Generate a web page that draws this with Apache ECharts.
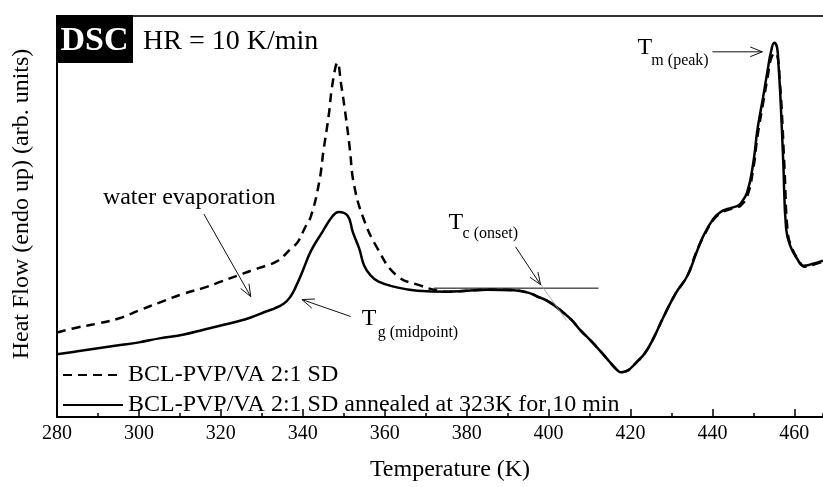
<!DOCTYPE html>
<html>
<head>
<meta charset="utf-8">
<script src="https://cdn.jsdelivr.net/npm/echarts@6/dist/echarts.min.js"></script>
<style>
  html, body { margin: 0; padding: 0; background: #fff; }
  #chart { width: 823px; height: 487px; }
</style>
</head>
<body>
<div id="chart"></div>
<script>
  // temperatures (K) and heat flow (arb. units)
  const solidTemps = [280, 285, 290, 295, 300, 305, 311, 316, 320, 324, 327.3, 331, 333, 335.4, 337, 338.2, 340, 342, 344.8, 347.3, 348.8,
    351, 352.2, 353.8, 355, 356.6, 358.5, 362.2, 368, 375.4, 380, 385, 391.5, 395, 397.3, 400, 403, 405.5, 407.8, 410, 412.7,
    415, 416.8, 417.6, 419, 421.7, 423.5, 425.6, 428, 431, 433.9, 436, 437.8, 440.2, 442, 443.7, 446, 446.8, 448.5, 450, 451,
    452.4, 453.5, 454.3, 455.1, 455.8, 456.1, 456.6, 457.3, 458, 459, 460.7, 462.2, 464.6, 467];
  const solidFlow = [63, 66, 69, 72, 75, 79, 83, 88, 92, 96, 100, 106, 109, 114, 121, 130, 147, 167, 186, 202, 206,
    202, 186, 169, 152, 142, 136, 131, 127, 126, 127, 128, 127.5, 125, 121, 116, 107, 98, 87, 78, 66,
    55, 47, 45, 46, 56, 64, 79, 100, 124, 142, 164, 182, 199, 206, 209, 212, 214, 226, 256, 289,
    322, 349, 367, 376, 371, 356, 322, 256, 189, 172, 159, 152, 154, 157];

  const dashedTemps = [280, 285, 290, 295, 300, 305, 311, 316, 320, 324, 328, 331, 333.9, 337.1, 338.8, 340.5, 342, 344, 345.1, 346.3,
    347.3, 348.5, 349.3, 350.5, 351.5, 352.4, 354.6, 358.3, 363, 368.8, 373, 376, 380, 385, 391.5, 395, 397.3, 400, 403, 405.5,
    407.8, 410, 412.7, 415, 416.8, 417.6, 419, 421.7, 423.5, 425.6, 428, 431, 433.9, 436, 437.8, 440.2, 442, 443.7, 446, 446.8,
    448.5, 450, 451, 452.4, 453.5, 454.3, 455.3, 456, 456.4, 456.9, 457.6, 458.4, 459.4, 461, 462.5, 464.6, 467];
  const dashedFlow = [85, 90, 94, 99, 107, 115, 124, 130, 136, 142, 148, 152, 157, 169, 176, 190, 202, 236, 269, 302,
    336, 356, 336, 302, 269, 236, 202, 169, 142, 132, 127, 126, 127, 128, 127.5, 125, 121, 116, 107, 98,
    87, 78, 66, 55, 47, 45, 46, 56, 64, 79, 100, 124, 142, 165, 181, 198, 205, 208, 211, 212,
    222, 250, 282, 316, 342, 360, 366, 360, 340, 310, 250, 185, 170, 158, 151, 153, 156];

  const seriesNames = ['BCL-PVP/VA 2:1 SD', 'BCL-PVP/VA 2:1 SD annealed at 323K for 10 min'];
  const majorTicks = 20;
  const minorTicks = 10;

  const serif = 'Liberation Serif, Times New Roman, serif';

  const zip = (xs, ys) => xs.map((x, i) => [x, ys[i]]);

  let chart = echarts.init(document.getElementById('chart'), null, { renderer: 'canvas' });

  let option = {
    animation: false,
    backgroundColor: '#fff',
    grid: { left: 57, right: 0, top: 16, bottom: 68 },
    legend: {
      orient: 'vertical',
      left: 57,
      top: 358,
      itemWidth: 60,
      itemHeight: 14,
      itemGap: 6,
      itemStyle: { opacity: 0 },
      textStyle: { fontFamily: serif, fontSize: 24, lineHeight: 24, color: '#000' },
      data: seriesNames
    },
    xAxis: [
      {
        type: 'value', min: 280, max: 467, interval: majorTicks, position: 'bottom',
        name: 'Temperature (K)', nameLocation: 'middle', nameGap: 41,
        nameTextStyle: { fontFamily: serif, fontSize: 24, color: '#000', padding: [0, 0, 0, 20] },
        axisLine: { show: true, onZero: false, lineStyle: { color: '#000', width: 2 } },
        axisTick: { show: true, inside: true, length: 8, lineStyle: { color: '#000', width: 1.5 } },
        axisLabel: { fontFamily: serif, fontSize: 20, color: '#000', margin: 7, showMaxLabel: false },
        splitLine: { show: false }
      },
      {
        type: 'value', min: 280, max: 467, interval: minorTicks, position: 'bottom',
        axisLine: { show: false },
        axisTick: { show: true, inside: true, length: 4, lineStyle: { color: '#000', width: 1.5 } },
        axisLabel: { show: false },
        splitLine: { show: false }
      },
      {
        type: 'value', min: 280, max: 467, position: 'top',
        axisLine: { show: true, onZero: false, lineStyle: { color: '#333', width: 2 } },
        axisTick: { show: false }, axisLabel: { show: false }, splitLine: { show: false }
      }
    ],
    yAxis: {
      type: 'value', min: 0, max: 403,
      axisLine: { show: true, onZero: false, lineStyle: { color: '#000', width: 2 } },
      axisTick: { show: false }, axisLabel: { show: false }, splitLine: { show: false }
    },
    series: [
      {
        name: seriesNames[0], type: 'line', xAxisIndex: 0, symbol: 'none', smooth: 0.45,
        lineStyle: { color: '#000', width: 2.5, type: [9, 6] },
        itemStyle: { color: '#000' },
        data: zip(dashedTemps, dashedFlow), z: 3
      },
      {
        name: seriesNames[1], type: 'line', xAxisIndex: 0, symbol: 'none', smooth: 0.45,
        lineStyle: { color: '#000', width: 2.5 },
        itemStyle: { color: '#000' },
        data: zip(solidTemps, solidFlow), z: 4
      }
    ]
  };
  chart.setOption(option);

  // annotations, placed in data coordinates
  const toPx = p => chart.convertToPixel({ xAxisIndex: 0, yAxisIndex: 0 }, p);

  function arrow(from, to, head) {
    let a = toPx(from), b = toPx(to);
    let ang = Math.atan2(b[1] - a[1], b[0] - a[0]);
    let L = 13, t = 0.38;
    let h1 = [b[0] - L * Math.cos(ang - t), b[1] - L * Math.sin(ang - t)];
    let h2 = [b[0] - L * Math.cos(ang + t), b[1] - L * Math.sin(ang + t)];
    let els = [{ type: 'line', shape: { x1: a[0], y1: a[1], x2: b[0], y2: b[1] }, style: { stroke: '#111', lineWidth: 1 }, z: 10 }];
    if (head !== false) {
      els.push({ type: 'polyline', shape: { points: [h1, b, h2] }, style: { stroke: '#111', lineWidth: 1, fill: null }, z: 10 });
    }
    return els;
  }

  function label(text, at, size) {
    let p = toPx(at);
    return { type: 'text', x: p[0], y: p[1], z: 10,
      style: { text: text, fontFamily: serif, fontSize: size, fill: '#000', align: 'left', verticalAlign: 'middle' } };
  }

  let g = [];
  g = g.concat(arrow([315.85, 204], [327.3, 121]));
  g = g.concat(arrow([351.7, 101], [339.8, 118]));
  g = g.concat(arrow([391.95, 171], [398.05, 133]));
  g = g.concat(arrow([440, 367], [452.2, 367]));
  // onset construction lines
  let hl0 = toPx([372, 129.5]), hl1 = toPx([412.2, 129.5]);
  g.push({ type: 'line', shape: { x1: hl0[0], y1: hl0[1], x2: hl1[0], y2: hl1[1] }, style: { stroke: '#000', lineWidth: 1 }, z: 9 });
  let tl0 = toPx([397.07, 139]), tl1 = toPx([404.4, 97]);
  g.push({ type: 'line', shape: { x1: tl0[0], y1: tl0[1], x2: tl1[0], y2: tl1[1] }, style: { stroke: '#999', lineWidth: 0.8 }, z: 9 });

  g.push(label('water evaporation', [291.2, 220], 24));
  g.push(label('T', [354.4, 99], 24));
  g.push(label('g (midpoint)', [358.3, 85], 16));
  g.push(label('T', [375.6, 195], 24));
  g.push(label('c (onset)', [379, 184], 16));
  g.push(label('T', [421.7, 371], 24));
  g.push(label('m (peak)', [425.1, 358], 16));

  // DSC badge and heating rate
  g.push({ type: 'rect', shape: { x: 56, y: 15, width: 77, height: 48 }, style: { fill: '#000' }, z: 20 });
  g.push({ type: 'text', x: 94.5, y: 41, z: 21,
    style: { text: 'DSC', fontFamily: serif, fontSize: 34, fontWeight: 'bold', fill: '#fff', align: 'center', verticalAlign: 'middle' } });
  g.push({ type: 'text', x: 143, y: 42, z: 21,
    style: { text: 'HR = 10 K/min', fontFamily: serif, fontSize: 28, fill: '#000', align: 'left', verticalAlign: 'middle' } });

  // y axis title
  g.push({ type: 'text', x: 22, y: 204, rotation: Math.PI / 2, z: 21,
    style: { text: 'Heat Flow (endo up) (arb. units)', fontFamily: serif, fontSize: 24, fill: '#000', align: 'center', verticalAlign: 'middle' } });

  chart.setOption({ graphic: g });
</script>
</body>
</html>
